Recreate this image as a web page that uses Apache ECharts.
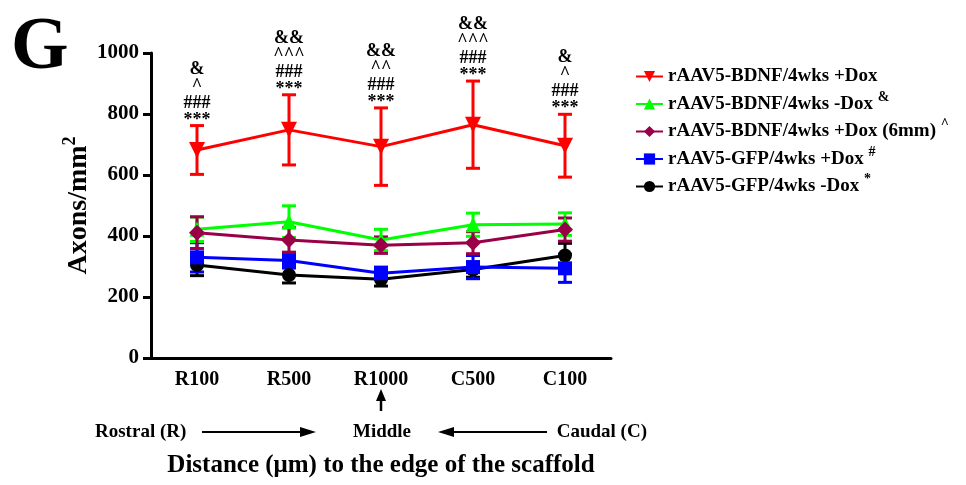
<!DOCTYPE html>
<html><head><meta charset="utf-8">
<script src="https://cdn.jsdelivr.net/npm/echarts@6/dist/echarts.min.js"></script>
<style>html,body{margin:0;padding:0;background:#fff}#c{width:966px;height:485px}</style>
</head><body><div id="c"></div>
<script>
const categories = ['R100', 'R500', 'R1000', 'C500', 'C100'];
const yTicks = [0, 200, 400, 600, 800, 1000];

const names = ['rAAV5-BDNF/4wks +Dox', 'rAAV5-BDNF/4wks -Dox', 'rAAV5-BDNF/4wks +Dox (6mm)', 'rAAV5-GFP/4wks +Dox', 'rAAV5-GFP/4wks -Dox'];
const legendMarks = ['', '&', '^', '#', '*'];

const bdnfDoxMean = [682, 748, 693, 765, 696];
const bdnfDoxErr = [80, 115, 127, 143, 103];
const bdnfNoDoxMean = [422, 447, 387, 437, 439];
const bdnfNoDoxErr = [40, 52, 35, 38, 37];
const bdnf6mmMean = [411, 387, 370, 378, 421];
const bdnf6mmErr = [52, 40, 27, 36, 38];
const gfpDoxMean = [330, 320, 278, 298, 294];
const gfpDoxErr = [48, 25, 20, 38, 46];
const gfpNoDoxMean = [305, 272, 258, 290, 336];
const gfpNoDoxErr = [35, 26, 22, 25, 40];

const sigAmp = ['&', '&&', '&&', '&&', '&'];
const sigCaret = ['^', '^^^', '^^', '^^^', '^'];
const sigHash = ['###', '###', '###', '###', '###'];
const sigStar = ['***', '***', '***', '***', '***'];

const FONT = '"Liberation Serif", "Times New Roman", serif';
const colors = ['#ff0000', '#00ff00', '#990047', '#0000ff', '#000000'];
const symbols = ['triangle', 'triangle', 'diamond', 'rect', 'circle'];
const rotates = [180, 0, 0, 0, 0];
const sizes = [16, 15, 16, 14, 14];
const means = [bdnfDoxMean, bdnfNoDoxMean, bdnf6mmMean, gfpDoxMean, gfpNoDoxMean];
const errs = [bdnfDoxErr, bdnfNoDoxErr, bdnf6mmErr, gfpDoxErr, gfpNoDoxErr];
const zs = [10, 6, 7, 5, 4];

function errRenderer(color, withAnnot) {
  return function (params, api) {
    const idx = api.value(0), m = api.value(1), e = api.value(2);
    const top = api.coord([idx, m + e]);
    const bot = api.coord([idx, m - e]);
    const hw = 7;
    const st = { stroke: color, lineWidth: 3 };
    const children = [
      { type: 'line', shape: { x1: top[0], y1: top[1], x2: bot[0], y2: bot[1] }, style: st },
      { type: 'line', shape: { x1: top[0] - hw, y1: top[1], x2: top[0] + hw, y2: top[1] }, style: st },
      { type: 'line', shape: { x1: bot[0] - hw, y1: bot[1], x2: bot[0] + hw, y2: bot[1] }, style: st }
    ];
    if (withAnnot) {
      const i = params.dataIndex;
      const txt = [sigAmp[i], sigCaret[i], sigHash[i], sigStar[i]].join('\n');
      children.push({ type: 'text', style: { text: txt, x: top[0], y: top[1] + 3, align: 'center', verticalAlign: 'bottom', font: 'bold 18px ' + FONT, lineHeight: 17, fill: '#000' } });
    }
    return { type: 'group', children: children };
  };
}

const series = [];
for (let k = 0; k < 5; k++) {
  series.push({
    name: names[k], type: 'line', data: means[k], symbol: symbols[k], symbolSize: sizes[k], symbolRotate: rotates[k],
    lineStyle: { color: colors[k], width: 3 }, itemStyle: { color: colors[k] }, z: zs[k] + 1, animation: false
  });
  series.push({
    type: 'custom', renderItem: errRenderer(colors[k], k === 0), z: zs[k], animation: false,
    data: means[k].map((v, i) => [i, v, errs[k][i]])
  });
}

const chart = echarts.init(document.getElementById('c'));
chart.setOption({
  animation: false,
  backgroundColor: '#fff',
  title: { text: 'G', left: 6, top: 7, textStyle: { fontFamily: FONT, fontWeight: 'bold', fontSize: 74, color: '#000' } },
  grid: { left: 151, right: 355, top: 53, bottom: 127 },
  legend: {
    orient: 'vertical', left: 630, top: 62, itemGap: 4, itemWidth: 27, itemHeight: 14,
    data: names,
    formatter: function (n) { const i = names.indexOf(n); return legendMarks[i] ? n + ' {sup|' + legendMarks[i] + '}' : n; },
    textStyle: { fontFamily: FONT, fontWeight: 'bold', fontSize: 19, color: '#000',
      rich: { sup: { fontFamily: FONT, fontWeight: 'bold', fontSize: 14, color: '#000', padding: [0, 0, 14, 0] } } }
  },
  xAxis: {
    type: 'category', data: categories, boundaryGap: true,
    axisLine: { lineStyle: { color: '#000', width: 3 } },
    axisTick: { alignWithLabel: true, length: 6, lineStyle: { color: '#000', width: 3 } },
    axisLabel: { fontFamily: FONT, fontWeight: 'bold', fontSize: 20, color: '#000', margin: 12 },
    name: 'Distance (\u03bcm) to the edge of the scaffold', nameLocation: 'middle', nameGap: 95,
    nameTextStyle: { fontFamily: FONT, fontWeight: 'bold', fontSize: 25, color: '#000' }
  },
  yAxis: {
    type: 'value', min: yTicks[0], max: yTicks[yTicks.length - 1], interval: 200,
    axisLine: { show: true, lineStyle: { color: '#000', width: 3 } },
    axisTick: { show: true, length: 8, lineStyle: { color: '#000', width: 3 } },
    splitLine: { show: false },
    axisLabel: { fontFamily: FONT, fontWeight: 'bold', fontSize: 21, color: '#000', margin: 12, formatter: function (v) { return String(v); } },
    name: 'Axons/mm{sup|2}', nameLocation: 'middle', nameGap: 53, nameRotate: 90,
    nameTextStyle: { fontFamily: FONT, fontWeight: 'bold', fontSize: 28, color: '#000',
      rich: { sup: { fontFamily: FONT, fontWeight: 'bold', fontSize: 18, color: '#000', padding: [0, 0, 18, 0] } } }
  },
  series: series
});

const mid = chart.convertToPixel({ xAxisIndex: 0 }, 'R1000');
const yRow = 432;
const tf = 'bold 19px ' + FONT;
chart.setOption({
  graphic: [
    { type: 'polygon', shape: { points: [[mid, 389], [mid - 5, 401], [mid + 5, 401]] }, style: { fill: '#000' } },
    { type: 'line', shape: { x1: mid, y1: 399, x2: mid, y2: 411 }, style: { stroke: '#000', lineWidth: 2.5 } },
    { type: 'text', style: { text: 'Middle', x: mid + 1, y: yRow, align: 'center', verticalAlign: 'middle', font: tf, fill: '#000' } },
    { type: 'text', style: { text: 'Rostral (R)', x: 95, y: yRow, align: 'left', verticalAlign: 'middle', font: tf, fill: '#000' } },
    { type: 'line', shape: { x1: 202, y1: yRow, x2: 304, y2: yRow }, style: { stroke: '#000', lineWidth: 2 } },
    { type: 'polygon', shape: { points: [[316, yRow], [300, yRow - 5], [300, yRow + 5]] }, style: { fill: '#000' } },
    { type: 'text', style: { text: 'Caudal (C)', x: 647, y: yRow, align: 'right', verticalAlign: 'middle', font: tf, fill: '#000' } },
    { type: 'line', shape: { x1: 452, y1: yRow, x2: 547, y2: yRow }, style: { stroke: '#000', lineWidth: 2 } },
    { type: 'polygon', shape: { points: [[438, yRow], [454, yRow - 5], [454, yRow + 5]] }, style: { fill: '#000' } }
  ]
});
</script></body></html>
